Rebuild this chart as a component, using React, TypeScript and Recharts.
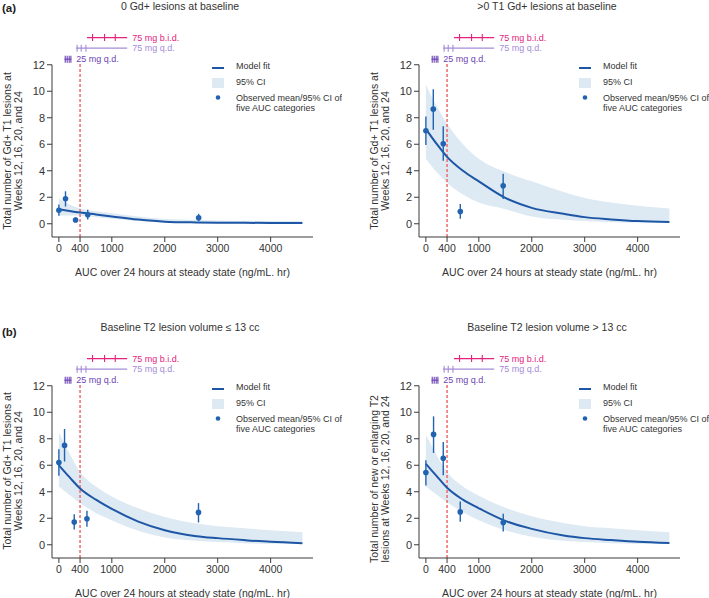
import React from 'react';
import { ComposedChart, XAxis, YAxis, Line, Area, Scatter, ErrorBar, ReferenceLine } from 'recharts';

// AUC grid for the model curves (ng/mL.hr)
const AUC_GRID = [0, 200, 400, 700, 1000, 1500, 2000, 2600, 3000, 3500, 4000, 4600];

// (a) 0 Gd+ lesions at baseline
const FIT_A = [1.1, 0.97, 0.85, 0.7, 0.55, 0.32, 0.16, 0.1, 0.08, 0.07, 0.06, 0.05];
const LO_A = [0.6, 0.62, 0.6, 0.5, 0.38, 0.2, 0.08, 0.05, 0.04, 0.03, 0.02, 0.02];
const HI_A = [1.9, 1.45, 1.15, 0.95, 0.8, 0.55, 0.35, 0.28, 0.24, 0.22, 0.2, 0.2];
const OBS_X_A = [0, 125, 315, 545, 2640];
const OBS_Y_A = [1.02, 1.88, 0.28, 0.68, 0.45];
const OBS_LO_A = [0.6, 1.3, 0.12, 0.32, 0.2];
const OBS_HI_A = [1.45, 2.45, 0.5, 1.05, 0.75];

// (a) >0 T1 Gd+ lesions at baseline
const FIT_B = [7.15, 6.05, 5.05, 4.0, 3.2, 1.95, 1.2, 0.75, 0.5, 0.33, 0.2, 0.13];
const LO_B = [4.9, 3.9, 3.1, 2.2, 1.6, 1.1, 0.55, 0.3, 0.2, 0.12, 0.09, 0.08];
const HI_B = [10.5, 8.9, 7.55, 6.0, 4.9, 3.9, 3.2, 2.4, 1.95, 1.6, 1.35, 1.15];
const OBS_X_B = [0, 140, 328, 650, 1460];
const OBS_Y_B = [7.02, 8.65, 6.04, 0.93, 2.87];
const OBS_LO_B = [5.95, 7.1, 4.75, 0.38, 1.86];
const OBS_HI_B = [8.1, 10.15, 7.35, 1.5, 3.77];

// (b) baseline T2 lesion volume <= 13 cc
const FIT_C = [6.0, 5.1, 4.25, 3.4, 2.7, 1.75, 1.1, 0.65, 0.5, 0.35, 0.22, 0.12];
const LO_C = [4.4, 3.75, 3.15, 2.4, 1.85, 1.05, 0.55, 0.3, 0.2, 0.12, 0.08, 0.06];
const HI_C = [8.5, 6.9, 5.5, 4.4, 3.65, 2.75, 2.1, 1.6, 1.4, 1.25, 1.1, 0.95];
const OBS_X_C = [0, 107, 290, 530, 2637];
const OBS_Y_C = [6.2, 7.5, 1.71, 1.96, 2.44];
const OBS_LO_C = [5.2, 6.28, 1.15, 1.36, 1.68];
const OBS_HI_C = [7.2, 8.74, 2.31, 2.56, 3.14];

// (b) baseline T2 lesion volume > 13 cc
const FIT_D = [6.1, 5.2, 4.3, 3.4, 2.75, 1.8, 1.2, 0.7, 0.5, 0.35, 0.22, 0.13];
const LO_D = [4.4, 3.8, 3.2, 2.45, 1.85, 1.1, 0.6, 0.3, 0.2, 0.12, 0.08, 0.06];
const HI_D = [8.3, 6.8, 5.5, 4.4, 3.7, 2.8, 2.15, 1.65, 1.4, 1.25, 1.1, 0.95];
const OBS_X_D = [0, 145, 328, 649, 1461];
const OBS_Y_D = [5.45, 8.33, 6.53, 2.48, 1.68];
const OBS_LO_D = [4.47, 6.93, 5.25, 1.73, 1.0];
const OBS_HI_D = [6.38, 9.69, 7.76, 3.26, 2.34];

// exposure ranges by dose
const BID_RANGE = [530, 1290];
const BID_TICKS = [636, 863, 1065];
const QD75_RANGE = [322, 1290];
const QD75_TICKS = [345, 422, 511];
const QD25_RANGE = [106, 233];
const QD25_TICKS = [120, 157, 195, 227];

const X_TICKS = [0, 400, 1000, 2000, 3000, 4000];
const Y_TICKS = [0, 2, 4, 6, 8, 10, 12];
const THRESHOLD = 400;

const TEXT = '#333333';
const AXIS = '#3a3a3a';
const BLUE = '#1d56a5';
const DOT = '#2163b0';
const BAND = '#dde9f3';
const RED = '#f06a6a';
const FONT = '"Liberation Sans", Arial, sans-serif';

const W = 342;
const H = 290;

const DOSES = [
  { label: '75 mg b.i.d.', range: BID_RANGE, ticks: BID_TICKS, level: 14.05, color: '#e3237e' },
  { label: '75 mg q.d.', range: QD75_RANGE, ticks: QD75_TICKS, level: 13.25, color: '#a58cd8' },
  { label: '25 mg q.d.', range: QD25_RANGE, ticks: QD25_TICKS, level: 12.42, color: '#6d44b5' },
];

const curve = (fit: number[], lo: number[], hi: number[]) =>
  AUC_GRID.map((x, i) => ({ x, fit: fit[i], ci: [lo[i], hi[i]] }));

const observed = (xs: number[], ys: number[], lo: number[], hi: number[]) =>
  xs.map((x, i) => ({ x, y: ys[i], err: [ys[i] - lo[i], hi[i] - ys[i]] }));

const PANELS = [
  {
    left: 0, top: 0, letter: '(a)', letterY: 8, title: '0 Gd+ lesions at baseline',
    yLabel: ['Total number of Gd+ T1 lesions at', 'Weeks 12, 16, 20, and 24'], yMid: 151,
    curve: curve(FIT_A, LO_A, HI_A), obs: observed(OBS_X_A, OBS_Y_A, OBS_LO_A, OBS_HI_A),
  },
  {
    left: 367, top: 0, letter: '', letterY: 0, title: '>0 T1 Gd+ lesions at baseline',
    yLabel: ['Total number of Gd+ T1 lesions at', 'Weeks 12, 16, 20, and 24'], yMid: 151,
    curve: curve(FIT_B, LO_B, HI_B), obs: observed(OBS_X_B, OBS_Y_B, OBS_LO_B, OBS_HI_B),
  },
  {
    left: 0, top: 321, letter: '(b)', letterY: 11, title: 'Baseline T2 lesion volume ≤ 13 cc',
    yLabel: ['Total number of Gd+ T1 lesions at', 'Weeks 12, 16, 20, and 24'], yMid: 150,
    curve: curve(FIT_C, LO_C, HI_C), obs: observed(OBS_X_C, OBS_Y_C, OBS_LO_C, OBS_HI_C),
  },
  {
    left: 367, top: 321, letter: '', letterY: 0, title: 'Baseline T2 lesion volume > 13 cc',
    yLabel: ['Total number of new or enlarging T2', 'lesions at Weeks 12, 16, 20, and 24'], yMid: 158,
    curve: curve(FIT_D, LO_D, HI_D), obs: observed(OBS_X_D, OBS_Y_D, OBS_LO_D, OBS_HI_D),
  },
];

const Panel = ({ p }: { p: any }) => (
  <div style={{ position: 'absolute', left: p.left, top: p.top, width: W, height: H }}>
    <ComposedChart width={W} height={H} data={p.curve} margin={{ top: 25, right: 29, left: 0, bottom: 0 }}>
      <XAxis
        type="number" dataKey="x" domain={[-130, 4800]} ticks={X_TICKS} allowDataOverflow
        height={53} tickSize={5} tickMargin={3} stroke={AXIS}
        tick={{ fill: TEXT, fontSize: 10.5 }}
        label={{ value: 'AUC over 24 hours at steady state (ng/mL. hr)', position: 'insideBottom', offset: 14, fill: TEXT, fontSize: 10.5 }}
      />
      <YAxis
        type="number" dataKey="y" domain={[-1, 15]} ticks={Y_TICKS} allowDataOverflow
        width={52} axisLine={false} tickSize={5} tickMargin={2} stroke={AXIS}
        tick={{ fill: TEXT, fontSize: 11 }}
      />
      <ReferenceLine segment={[{ x: -130, y: -1 }, { x: -130, y: 12 }]} stroke={AXIS} strokeWidth={1} />
      <Area dataKey="ci" type="monotone" fill={BAND} fillOpacity={1} stroke="none" isAnimationActive={false} />
      <ReferenceLine
        segment={[{ x: THRESHOLD, y: -1 }, { x: THRESHOLD, y: 12.1 }]}
        stroke={RED} strokeWidth={1.5} strokeDasharray="3 2"
      />
      <Line dataKey="fit" type="monotone" stroke={BLUE} strokeWidth={2} dot={false} isAnimationActive={false} />
      {DOSES.map((d) => (
        <Line
          key={d.label + '-bar'} data={d.range.map((x) => ({ x, y: d.level }))} dataKey="y"
          stroke={d.color} strokeWidth={1.2} dot={false} isAnimationActive={false}
        />
      ))}
      {DOSES.map((d) => (
        <Scatter
          key={d.label + '-ticks'} data={d.ticks.map((x) => ({ x, y: d.level }))} isAnimationActive={false}
          shape={(s: any) => <line x1={s.cx} x2={s.cx} y1={s.cy - 3.5} y2={s.cy + 3.5} stroke={d.color} strokeWidth={1.1} />}
        />
      ))}
      {DOSES.map((d) => (
        <Scatter
          key={d.label + '-label'} data={[{ x: d.range[1], y: d.level }]} isAnimationActive={false}
          shape={(s: any) => (
            <text x={s.cx + 5} y={s.cy} dominantBaseline="central" fontSize={9} fill={d.color} fontFamily={FONT}>
              {d.label}
            </text>
          )}
        />
      ))}
      <Scatter
        data={p.obs} isAnimationActive={false}
        shape={(s: any) => <circle cx={s.cx} cy={s.cy} r={2.8} fill={DOT} />}
      >
        <ErrorBar dataKey="err" direction="y" width={0} stroke={DOT} strokeWidth={1.4} />
      </Scatter>
    </ComposedChart>
    <svg width={W} height={H} style={{ position: 'absolute', left: 0, top: 0, pointerEvents: 'none' }}>
      {p.letter && (
        <text x={2} y={p.letterY} dominantBaseline="central" fontSize={11.5} fontWeight="bold" fill="#222">
          {p.letter}
        </text>
      )}
      <text x={180} y={6} textAnchor="middle" dominantBaseline="central" fontSize={10.5} fill={TEXT}>
        {p.title}
      </text>
      <text transform={`translate(6.5, ${p.yMid}) rotate(-90)`} textAnchor="middle" dominantBaseline="central" fontSize={10.5} fill={TEXT}>
        {p.yLabel[0]}
      </text>
      <text transform={`translate(17.5, ${p.yMid}) rotate(-90)`} textAnchor="middle" dominantBaseline="central" fontSize={10.5} fill={TEXT}>
        {p.yLabel[1]}
      </text>
      <line x1={212} x2={224} y1={68} y2={68} stroke={BLUE} strokeWidth={2} />
      <text x={236} y={66} dominantBaseline="central" fontSize={9} fill={TEXT}>Model fit</text>
      <rect x={212} y={78} width={12} height={10} fill={BAND} />
      <text x={236} y={82} dominantBaseline="central" fontSize={9} fill={TEXT}>95% CI</text>
      <circle cx={218} cy={97.5} r={2.3} fill={DOT} />
      <text x={236} y={97.5} dominantBaseline="central" fontSize={9} fill={TEXT}>Observed mean/95% CI of</text>
      <text x={236} y={108} dominantBaseline="central" fontSize={9} fill={TEXT}>five AUC categories</text>
    </svg>
  </div>
);

export default function App() {
  return (
    <div style={{ position: 'absolute', left: 0, top: 0, width: 709, height: 598, overflow: 'hidden', background: '#fff', fontFamily: FONT }}>
      {PANELS.map((p, i) => (
        <Panel key={i} p={p} />
      ))}
    </div>
  );
}
